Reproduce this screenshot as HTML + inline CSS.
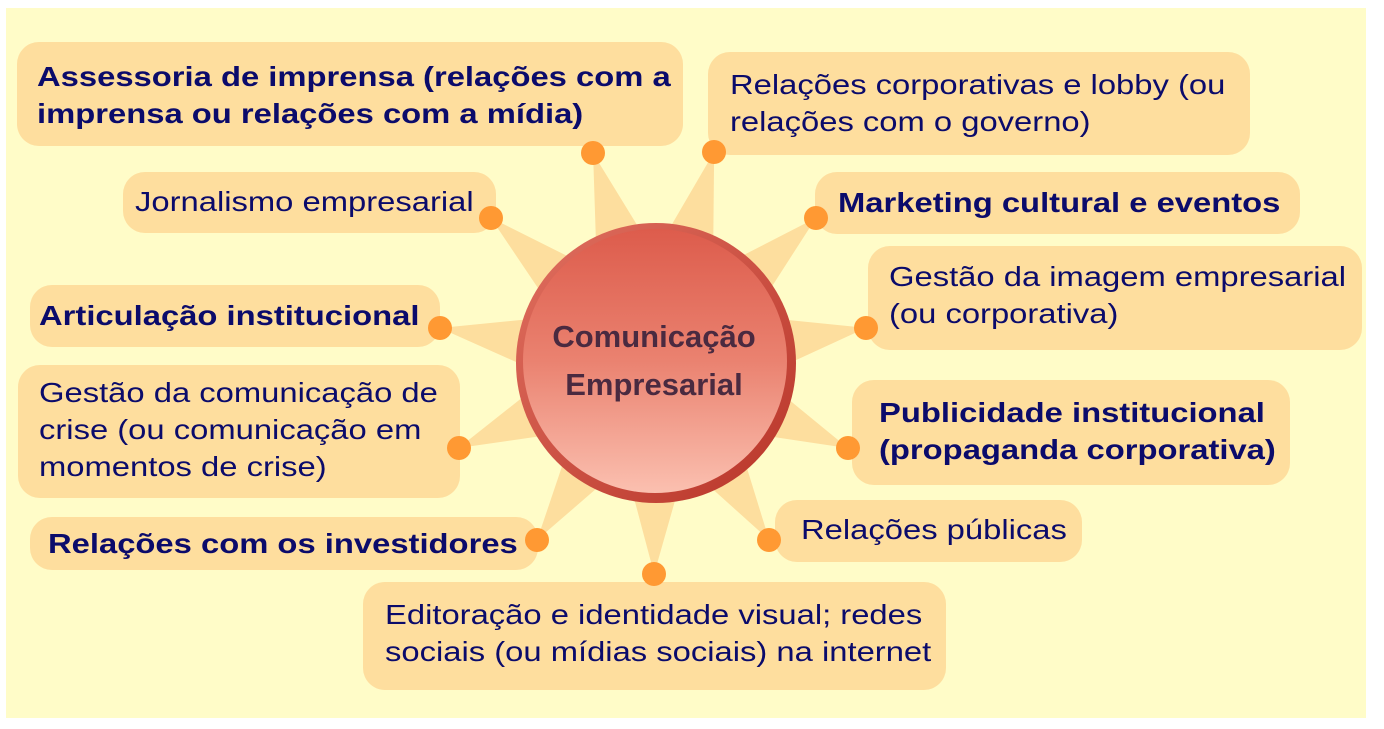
<!DOCTYPE html>
<html><head><meta charset="utf-8"><style>
body{margin:0;width:1384px;height:729px;background:#fff;position:relative;overflow:hidden;font-family:"Liberation Sans",Arial,sans-serif}
.bg{position:absolute;left:6px;top:8px;width:1360px;height:710px;background:#FFFCC8}
.b{position:absolute;background:#FEDE9E;border-radius:22px;color:#0B0B6B;font-size:28px;line-height:37px;box-sizing:border-box;white-space:nowrap}
.b span{display:inline-block;transform:scaleX(1.17);transform-origin:0 0}
.bd{font-weight:bold}
svg{position:absolute;left:0;top:0}
</style></head><body>
<div class="bg"></div>
<svg width="1384" height="729">
<g fill="#FDDE9E" transform="translate(656,363)">
<polygon points="0,-58 0,58 219,0" transform="rotate(-106.7)"/>
<polygon points="0,-58 0,58 219,0" transform="rotate(-74.6)"/>
<polygon points="0,-58 0,58 220,0" transform="rotate(-138.7)"/>
<polygon points="0,-58 0,58 216,0" transform="rotate(-42.2)"/>
<polygon points="0,-58 0,58 219,0" transform="rotate(-170.8)"/>
<polygon points="0,-58 0,58 213,0" transform="rotate(-9.5)"/>
<polygon points="0,-58 0,58 215,0" transform="rotate(156.7)"/>
<polygon points="0,-58 0,58 210,0" transform="rotate(23.9)"/>
<polygon points="0,-58 0,58 213,0" transform="rotate(123.9)"/>
<polygon points="0,-58 0,58 210,0" transform="rotate(57.4)"/>
<polygon points="0,-58 0,58 211,0" transform="rotate(90.5)"/>
</g>
</svg>
<div class="b bd" style="left:17px;top:42px;width:666px;height:104px;padding:16px 0 0 20px"><span>Assessoria de imprensa (relações com a<br>imprensa ou relações com a mídia)</span></div>
<div class="b" style="left:708px;top:52px;width:542px;height:103px;padding:14px 0 0 22px"><span>Relações corporativas e lobby (ou<br>relações com o governo)</span></div>
<div class="b" style="left:123px;top:172px;width:373px;height:61px;padding:11px 0 0 12px"><span>Jornalismo empresarial</span></div>
<div class="b bd" style="left:815px;top:172px;width:485px;height:62px;padding:12px 0 0 23px"><span>Marketing cultural e eventos</span></div>
<div class="b" style="left:868px;top:246px;width:494px;height:104px;padding:12px 0 0 21px"><span>Gestão da imagem empresarial<br>(ou corporativa)</span></div>
<div class="b bd" style="left:30px;top:285px;width:410px;height:62px;padding:12px 0 0 9px"><span>Articulação institucional</span></div>
<div class="b" style="left:18px;top:365px;width:442px;height:133px;padding:9px 0 0 21px"><span>Gestão da comunicação de<br>crise (ou comunicação em<br>momentos de crise)</span></div>
<div class="b bd" style="left:852px;top:380px;width:438px;height:105px;padding:14px 0 0 27px"><span>Publicidade institucional<br>(propaganda corporativa)</span></div>
<div class="b bd" style="left:30px;top:517px;width:508px;height:53px;padding:8px 0 0 18px"><span>Relações com os investidores</span></div>
<div class="b" style="left:775px;top:500px;width:307px;height:62px;padding:11px 0 0 26px"><span>Relações públicas</span></div>
<div class="b" style="left:363px;top:582px;width:583px;height:108px;padding:14px 0 0 22px"><span>Editoração e identidade visual; redes<br>sociais (ou mídias sociais) na internet</span></div>
<svg width="1384" height="729">
<defs>
<linearGradient id="g" x1="0" y1="0" x2="0" y2="1">
<stop offset="0" stop-color="#DD5C4C"/><stop offset="0.5" stop-color="#EA8270"/><stop offset="1" stop-color="#FBC0B0"/></linearGradient>
<linearGradient id="r" x1="0" y1="0" x2="1" y2="1">
<stop offset="0" stop-color="#E07060"/><stop offset="1" stop-color="#B83428"/></linearGradient>
</defs>
<g fill="#FF9933">
<circle cx="593" cy="153" r="12"/><circle cx="714" cy="152" r="12"/>
<circle cx="491" cy="218" r="12"/><circle cx="816" cy="218" r="12"/>
<circle cx="440" cy="328" r="12"/><circle cx="866" cy="328" r="12"/>
<circle cx="459" cy="448" r="12"/><circle cx="848" cy="448" r="12"/>
<circle cx="537" cy="540" r="12"/><circle cx="769" cy="540" r="12"/>
<circle cx="654" cy="574" r="12"/>
</g>
<circle cx="656" cy="363" r="140" fill="url(#r)"/>
<circle cx="655" cy="361" r="132" fill="url(#g)"/>
<text x="654" y="347" text-anchor="middle" font-family="Liberation Sans, sans-serif" font-weight="bold" font-size="31" fill="#4A2A40">Comunicação</text>
<text x="654" y="395" text-anchor="middle" font-family="Liberation Sans, sans-serif" font-weight="bold" font-size="31" fill="#4A2A40">Empresarial</text>
</svg>
</body></html>
